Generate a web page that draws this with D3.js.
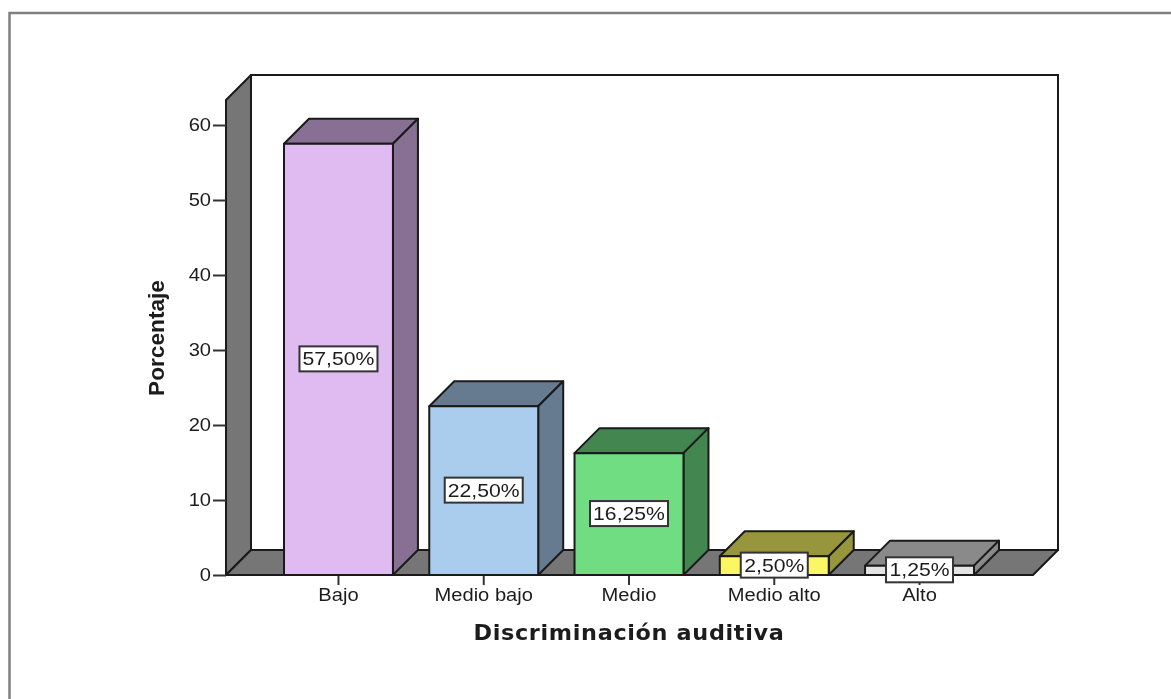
<!DOCTYPE html>
<html>
<head>
<meta charset="utf-8">
<script src="https://cdn.jsdelivr.net/npm/d3@7"></script>
<style>
  html, body { margin: 0; padding: 0; background: #fff; overflow: hidden; }
  svg { display: block; filter: blur(0.55px); }
  text { font-family: "Liberation Sans", Arial, sans-serif; fill: #1c1c1c; }
</style>
</head>
<body>
<div id="chart"></div>
<script>
var categories = ["Bajo", "Medio bajo", "Medio", "Medio alto", "Alto"];
var percentValues = [57.5, 22.5, 16.25, 2.5, 1.25];
var percentLabels = ["57,50%", "22,50%", "16,25%", "2,50%", "1,25%"];
var yTicks = [0, 10, 20, 30, 40, 50, 60];
var frontColors = ["#dfbbf2", "#aacdee", "#70dd82", "#fbf764", "#e4e4e4"];
var sideColors = ["#877093", "#667b90", "#44864f", "#98963c", "#8a8a8a"];

var width = 1171, height = 699;
var depth = 25;
var wallColor = "#767676", lineColor = "#1a1a1a";

var svg = d3.select("#chart").append("svg")
    .attr("width", width)
    .attr("height", height);

// the source image is stretched sideways, so widen the text to the same amount
function stretch(sel, factor) {
  sel.each(function() {
    var len = this.getComputedTextLength();
    d3.select(this)
        .attr("textLength", len * factor)
        .attr("lengthAdjust", "spacingAndGlyphs");
  });
}

// outer frame, only top and left show in the picture
svg.append("path")
    .attr("d", "M9.5,699V13H1171")
    .attr("fill", "none")
    .attr("stroke", "#808080")
    .attr("stroke-width", 2.5);

////// Scales //////
var yScale = d3.scaleLinear().domain([0, 60]).range([575, 125]);
var xScale = d3.scaleBand().domain(categories).range([284, 974]).paddingInner(0.25);

var x0 = 226, x1 = 1033, yBase = yScale(0), yTop = 100;

////// Back wall, side wall, floor //////
svg.append("rect")
    .attr("x", x0 + depth).attr("y", yTop - depth)
    .attr("width", x1 - x0).attr("height", yBase - yTop)
    .attr("fill", "#fff").attr("stroke", lineColor).attr("stroke-width", 2);

function poly(points, fill) {
  return svg.append("polygon")
      .attr("points", points.map(function(p) { return p.join(","); }).join(" "))
      .attr("fill", fill)
      .attr("stroke", lineColor)
      .attr("stroke-width", 2)
      .attr("stroke-linejoin", "round");
}

poly([[x0, yBase], [x0, yTop], [x0 + depth, yTop - depth], [x0 + depth, yBase - depth]], wallColor);
poly([[x0, yBase], [x1, yBase], [x1 + depth, yBase - depth], [x0 + depth, yBase - depth]], wallColor);

////// Axes //////
var yAxis = d3.axisLeft(yScale).tickValues(yTicks).tickSize(13).tickPadding(2);
var xAxis = d3.axisBottom(xScale).tickSize(10).tickPadding(4);

var gy = svg.append("g").attr("transform", "translate(" + x0 + ",0)").call(yAxis);
var gx = svg.append("g").attr("transform", "translate(0," + yBase + ")").call(xAxis);
gy.select(".domain").remove();
gx.select(".domain").remove();
svg.selectAll(".tick line").attr("stroke", "#333").attr("stroke-width", 2);
svg.selectAll(".tick text").style("font-size", "17.5px").attr("fill", "#1c1c1c").call(stretch, 1.15);

////// Bars //////
categories.forEach(function(c, i) {
  var x = xScale(c), w = xScale.bandwidth(), y = yScale(percentValues[i]);
  // top and side faces
  poly([[x, y], [x + depth, y - depth], [x + w + depth, y - depth], [x + w, y]], sideColors[i]);
  poly([[x + w, y], [x + w + depth, y - depth], [x + w + depth, yBase - depth], [x + w, yBase]], sideColors[i]);
  poly([[x, y], [x + w, y], [x + w, yBase], [x, yBase]], frontColors[i]);
});

////// Value labels //////
var labelW = [78, 78, 78, 67, 67];
categories.forEach(function(c, i) {
  var cx = xScale(c) + xScale.bandwidth() / 2;
  var cy = yScale(percentValues[i] / 2);
  svg.append("rect")
      .attr("x", cx - labelW[i] / 2).attr("y", cy - 13)
      .attr("width", labelW[i]).attr("height", 25)
      .attr("fill", "#fff").attr("stroke", "#333").attr("stroke-width", 2);
  svg.append("text")
      .attr("x", cx).attr("y", cy + 6)
      .attr("text-anchor", "middle")
      .style("font-size", "17.5px")
      .text(percentLabels[i])
      .call(stretch, 1.21);
});

////// Axis titles //////
svg.append("text")
    .attr("x", 629).attr("y", 640)
    .attr("text-anchor", "middle")
    .style("font-family", "'DejaVu Sans', Verdana, sans-serif")
    .style("font-weight", "bold")
    .style("font-size", "20.5px")
    .style("letter-spacing", "0.6px")
    .text("Discriminación auditiva")
    .call(stretch, 1.09);

svg.append("text")
    .attr("transform", "translate(164,338) rotate(-90)")
    .attr("text-anchor", "middle")
    .style("font-weight", "bold")
    .style("font-size", "22px")
    .text("Porcentaje")
    .call(stretch, 1.03);
</script>
</body>
</html>
